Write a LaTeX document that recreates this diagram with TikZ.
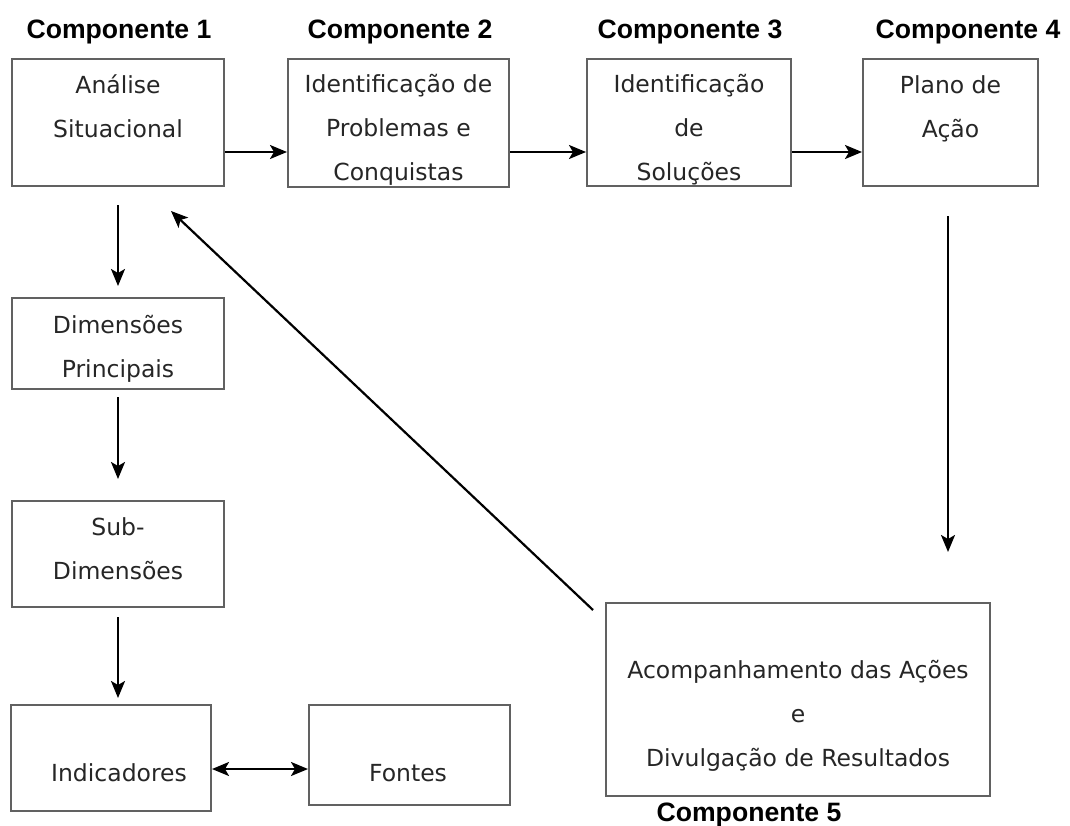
\documentclass[tikz,border=0pt]{standalone}
\usepackage{fontspec}
\setmainfont{DejaVu Sans}
\newfontfamily\headfont{Liberation Sans}
\usetikzlibrary{arrows.meta,calc}
\begin{document}
\begin{tikzpicture}[x=1pt,y=-1pt,
  box/.style={draw=black!62,line width=2pt,rectangle,inner sep=0pt},
  txt/.style={font=\fontsize{23.5}{44}\selectfont,align=center,anchor=base,inner sep=0pt,text=black!85},
  head/.style={font=\headfont\bfseries\fontsize{26.6}{30}\selectfont,anchor=base,inner sep=0pt},
  arr/.style={line width=2.2pt,-{Stealth[length=17pt,width=14pt,inset=4pt]}},
  darr/.style={line width=2.2pt,{Stealth[length=17pt,width=14pt,inset=4pt]}-{Stealth[length=17pt,width=14pt,inset=4pt]}}]
\useasboundingbox (0,0) rectangle (1070,825);
% boxes
\node[box,minimum width=212pt,minimum height=127pt] (b1) at (118,122.5) {};
\node[box,minimum width=221pt,minimum height=128pt] (b2) at (398.5,123) {};
\node[box,minimum width=204pt,minimum height=127pt] (b3) at (689,122.5) {};
\node[box,minimum width=175pt,minimum height=127pt] (b4) at (950.5,122.5) {};
\node[box,minimum width=212pt,minimum height=91pt] (dp) at (118,343.5) {};
\node[box,minimum width=212pt,minimum height=106pt] (sd) at (118,554) {};
\node[box,minimum width=200pt,minimum height=106pt] (ind) at (111,758) {};
\node[box,minimum width=201pt,minimum height=100pt] (fo) at (409.5,755) {};
\node[box,minimum width=384pt,minimum height=193pt] (b5) at (798,699.5) {};
% headings
\node[head] (h1) at (119,38) {Componente 1};
\node[head] (h2) at (400,38) {Componente 2};
\node[head] (h3) at (690,38) {Componente 3};
\node[head] (h4) at (968,38) {Componente 4};
\node[head] (h5) at (749,821) {Componente 5};
% texts (anchor = baseline of last line)
\node[txt] (t1) at (118,137) {Análise\\Situacional};
\begin{scope}
\clip (b2.north west) rectangle ($(b2.south east)+(0,-1)$);
\node[txt] (t2) at (398.5,180) {Identificação de\\Problemas e\\Conquistas};
\end{scope}
\begin{scope}
\clip (b3.north west) rectangle ($(b3.south east)+(0,-1)$);
\node[txt] (t3) at (689,180) {Identificação\\de\\Soluções};
\end{scope}
\node[txt] (t4) at (950.5,137) {Plano de\\Ação};
\node[txt] (tdp) at (118,377) {Dimensões\\Principais};
\node[txt] (tsd) at (118,579) {Sub-\\Dimensões};
\node[txt] (tind) at (119,781) {Indicadores};
\node[txt] (tfo) at (408,781) {Fontes};
\node[txt] (t5) at (798,766) {Acompanhamento das Ações\\e\\Divulgação de Resultados};
% connectors
\draw[arr] (b1.east |- 0,152) -- (b2.west |- 0,152);
\draw[arr] (b2.east |- 0,152) -- (b3.west |- 0,152);
\draw[arr] (b3.east |- 0,152) -- (b4.west |- 0,152);
\draw[arr,shorten <=18pt,shorten >=11pt] (b1.south) -- (dp.north);
\draw[arr,shorten <=7pt,shorten >=21pt] (dp.south) -- (sd.north);
\draw[arr,shorten <=9pt,shorten >=6pt] (sd.south) -- (ind.north -| sd.south);
\draw[darr] (ind.east |- 0,769) -- (fo.west |- 0,769);
\draw[arr,shorten <=29pt,shorten >=50pt] (b4.south -| 948,0) -- (b5.north -| 948,0);
\draw[arr] ($(b5.north west)+(-12,8)$) -- ($(b1.south)+(53,24)$);
\end{tikzpicture}
\end{document}
